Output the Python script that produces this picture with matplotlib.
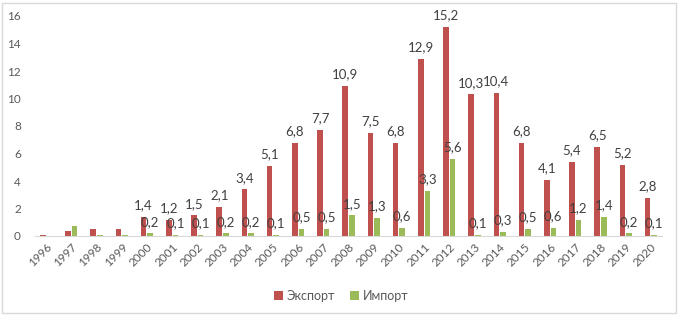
import matplotlib.pyplot as plt
import numpy as np
from matplotlib.patches import Rectangle

years = [str(y) for y in range(1996, 2021)]
export = [0.1, 0.35, 0.5, 0.5, 1.4, 1.2, 1.5, 2.1, 3.4, 5.1, 6.8, 7.7, 10.9,
          7.5, 6.8, 12.9, 15.2, 10.3, 10.4, 6.8, 4.1, 5.4, 6.5, 5.2, 2.8]
imports = [0.02, 0.7, 0.05, 0.1, 0.2, 0.1, 0.1, 0.2, 0.2, 0.1, 0.5, 0.5, 1.5,
           1.3, 0.6, 3.3, 5.6, 0.1, 0.3, 0.5, 0.6, 1.2, 1.4, 0.2, 0.1]
labeled_from = 4  # подписи только с 2000 года

plt.rcParams['font.family'] = ['Lato', 'DejaVu Sans']

red = '#C0504D'
green = '#9BBB59'
gray = '#595959'

fig = plt.figure(figsize=(6.82, 3.2), dpi=100)
ax = fig.add_axes([0.051, 0.2625, 0.92, 0.6875])

x = np.arange(len(years))
w = 0.22
ax.bar(x - w / 2 - 0.02, export, w, color=red, label='Экспорт')
ax.bar(x + w / 2 + 0.02, imports, w, color=green, label='Импорт')

for i in range(labeled_from, len(years)):
    ax.annotate(f'{export[i]:.1f}'.replace('.', ','), (x[i] - w / 2 - 0.02, export[i]),
                xytext=(0, 4), textcoords='offset points', ha='center', va='bottom',
                fontsize=9.5, color='#404040')
    ax.annotate(f'{imports[i]:.1f}'.replace('.', ','), (x[i] + w / 2 + 0.02, imports[i]),
                xytext=(0, 4), textcoords='offset points', ha='center', va='bottom',
                fontsize=9.5, color='#404040')

ax.set_xlim(-0.45, len(years) - 0.55)
ax.set_ylim(0, 16)
ax.set_yticks(range(0, 17, 2))
ax.set_xticks(x)
ax.set_xticklabels(years, rotation=45, ha='right', rotation_mode='anchor')
ax.tick_params(axis='both', length=0, labelsize=8.5, colors=gray)
ax.tick_params(axis='y', pad=10)
ax.tick_params(axis='x', pad=4)
for s in ['top', 'right', 'left']:
    ax.spines[s].set_visible(False)
ax.spines['bottom'].set_color('#D9D9D9')

fig.legend(loc='center', bbox_to_anchor=(0.5, 0.075), ncol=2, frameon=False,
           fontsize=9, handlelength=0.7, handleheight=0.7, handletextpad=0.3,
           columnspacing=1.2, labelcolor=gray)

fig.patches.append(Rectangle((0.003, 0.022), 0.988, 0.968, transform=fig.transFigure,
                             fill=False, edgecolor='#D9D9D9', linewidth=1))

fig.savefig('out.png', dpi=100)
